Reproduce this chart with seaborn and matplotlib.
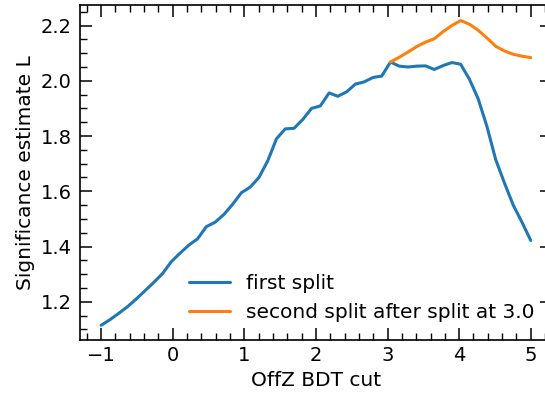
import numpy as np
import pandas as pd
import matplotlib
matplotlib.use("Agg")
import matplotlib.pyplot as plt
from matplotlib.ticker import MultipleLocator
import seaborn as sns

# BDT cut scan grid
bdt_cut = np.linspace(-1, 5, 50)

# significance for the first split, one value per cut
first_split = [
    1.115, 1.135, 1.158, 1.182, 1.210, 1.240, 1.270, 1.302, 1.345, 1.376,
    1.405, 1.428, 1.472, 1.488, 1.516, 1.553, 1.595, 1.615, 1.650, 1.710,
    1.790, 1.826, 1.828, 1.860, 1.900, 1.909, 1.956, 1.944, 1.960, 1.988,
    1.996, 2.012, 2.017, 2.068, 2.053, 2.050, 2.053, 2.054, 2.041, 2.055,
    2.066, 2.060, 2.006, 1.935, 1.835, 1.715, 1.630, 1.550, 1.488, 1.422,
]

# significance for the second split, scanned from cut 3.0 upwards
second_split = [
    2.068, 2.085, 2.104, 2.124, 2.140, 2.152, 2.178, 2.200, 2.218, 2.205,
    2.183, 2.155, 2.125, 2.108, 2.096, 2.089, 2.084,
]

first_label = "first split"
second_label = "second split after split at 3.0"
x_label = "OffZ BDT cut"
y_label = "Significance estimate L"

df_first = pd.DataFrame({"cut": bdt_cut, "L": first_split})
df_second = pd.DataFrame({"cut": bdt_cut[len(bdt_cut) - len(second_split):], "L": second_split})

sns.set_style("ticks")
plt.rcParams["font.family"] = ["DejaVu Sans"]
plt.rcParams.update({
    "font.size": 14,
    "text.color": "black",
    "axes.labelcolor": "black",
    "xtick.direction": "in",
    "ytick.direction": "in",
    "xtick.top": True,
    "ytick.right": True,
    "xtick.major.size": 8.5,
    "ytick.major.size": 8.5,
    "xtick.minor.size": 4.8,
    "ytick.minor.size": 4.8,
    "xtick.major.width": 1.1,
    "ytick.major.width": 1.1,
    "xtick.minor.width": 1.0,
    "ytick.minor.width": 1.0,
    "xtick.major.pad": 4.0,
    "ytick.major.pad": 5.8,
    "axes.linewidth": 1.2,
    "axes.edgecolor": "black",
    "xtick.color": "black",
    "ytick.color": "black",
    "xtick.labelcolor": "black",
    "ytick.labelcolor": "black",
})

fig = plt.figure(figsize=(5.45, 3.98), dpi=100)
ax = fig.add_axes([0.1461, 0.1445, 0.8672, 0.842])

palette = sns.color_palette("tab10")
sns.lineplot(data=df_first, x="cut", y="L", ax=ax, color=palette[0],
             linewidth=2.2, label=first_label)
sns.lineplot(data=df_second, x="cut", y="L", ax=ax, color=palette[1],
             linewidth=2.2, label=second_label)

ax.set_xlim(-1.3, 5.3)
ax.set_ylim(1.06, 2.273)
ax.xaxis.set_major_locator(MultipleLocator(1))
ax.xaxis.set_minor_locator(MultipleLocator(0.2))
ax.yaxis.set_major_locator(MultipleLocator(0.2))
ax.yaxis.set_minor_locator(MultipleLocator(0.05))
ax.tick_params(which="both", direction="in", top=True, right=True, labelsize=14)

ax.set_xlabel(x_label, fontsize=14.5, color="black")
ax.set_ylabel(y_label, fontsize=14.5, color="black")
leg = ax.legend(loc="lower right", frameon=False, fontsize=14.5)
for txt in leg.get_texts():
    txt.set_color("black")

fig.savefig("out.png", dpi=100)
